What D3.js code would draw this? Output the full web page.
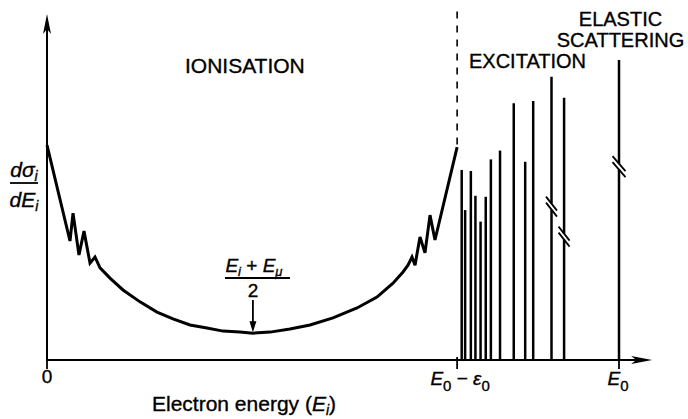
<!DOCTYPE html>
<html>
<head>
<meta charset="utf-8">
<script src="https://cdn.jsdelivr.net/npm/d3@7"></script>
<style>
  html, body { margin: 0; padding: 0; background: #fff; }
  svg { display: block; }
  text { font-family: "Liberation Sans", Arial, Helvetica, sans-serif; fill: #000; stroke: #000; stroke-width: 0.35px; }
</style>
</head>
<body>
<svg id="chart" width="688" height="419"></svg>
<script>
// ---------- data (arbitrary units: E0 = 100, y from 0 to 100) ----------
const curveEnergy = [0, 4.02, 4.55, 5.59, 6.47, 7.52, 8.39, 9.27, 11.01, 13.29, 16.26, 19.23, 22.03, 25.0, 27.97, 30.77, 33.74, 36.01, 38.99, 42.48, 45.98, 50.0, 54.2, 57.69, 60.49, 62.24, 63.11, 63.81, 64.34, 65.21, 66.08, 66.96, 67.83, 71.7];
const curveSigma  = [63.2, 35.0, 43.2, 30.9, 37.9, 28.5, 30.3, 27.1, 24.1, 20.6, 17.1, 14.1, 12.1, 10.3, 9.4, 8.5, 8.2, 7.9, 8.2, 9.1, 10.3, 12.4, 15.3, 18.5, 22.6, 25.9, 27.9, 30.3, 27.9, 36.2, 31.5, 42.6, 35.3, 62.6];

const excitationEnergy = [72.5, 73.1, 74.1, 74.9, 75.8, 76.7, 77.6, 79.2, 81.6, 83.6, 85.0, 88.2, 90.4];
const excitationHeight = [55.9, 44.1, 55.6, 48.3, 40.7, 48.0, 59.0, 61.6, 75.5, 58.3, 76.2, 83.3, 77.1];
const brokenEnergy = [88.2, 90.4];
const brokenAt = [45.1, 36.3];

const elasticEnergy = [100];
const elasticHeight = [88.2];
const elasticBreakAt = [56.9];

const thresholdEnergy = 71.7;   // E0 - eps0
const minimumEnergy = 36.0;     // (Ei + Emu)/2
const minimumSigma = 7.9;
const tickEnergy = [0, 71.7, 100];

// ---------- scales ----------
const svg = d3.select("#chart");
const x = d3.scaleLinear().domain([0, 100]).range([47, 619]);
const y = d3.scaleLinear().domain([0, 100]).range([360, 20]);

// ---------- axes ----------
const axisEndX = 105.8, axisEndY = 101.8;
svg.append("line").attr("x1", x(0)).attr("x2", x(axisEndX) - 12).attr("y1", y(0)).attr("y2", y(0))
  .attr("stroke", "#000").attr("stroke-width", 2);
svg.append("line").attr("x1", x(0)).attr("x2", x(0)).attr("y1", y(0) + 1).attr("y2", y(axisEndY) + 12)
  .attr("stroke", "#000").attr("stroke-width", 2);
// arrowheads
{
  const tx = x(axisEndX), ty = y(0);
  svg.append("path").attr("d", `M${tx},${ty} L${tx - 21},${ty - 4} L${tx - 16},${ty} L${tx - 21},${ty + 4} Z`).attr("fill", "#000");
  const ax = x(0), ay = y(axisEndY);
  svg.append("path").attr("d", `M${ax},${ay} L${ax - 4},${ay + 20} L${ax},${ay + 15} L${ax + 4},${ay + 20} Z`).attr("fill", "#000");
}
// ticks
tickEnergy.forEach(e => {
  svg.append("line").attr("x1", x(e)).attr("x2", x(e)).attr("y1", y(0) - 3).attr("y2", y(0) + 9)
    .attr("stroke", "#000").attr("stroke-width", 1.8);
});

// ---------- dashed threshold line ----------
svg.append("line").attr("x1", x(thresholdEnergy)).attr("x2", x(thresholdEnergy))
  .attr("y1", y(102.5)).attr("y2", y(62.6))
  .attr("stroke", "#000").attr("stroke-width", 1.6).attr("stroke-dasharray", "7,7");

// ---------- ionisation curve ----------
const pts = curveEnergy.map((e, i) => [x(e), y(curveSigma[i])]);
svg.append("path").attr("d", d3.line().curve(d3.curveLinear)(pts))
  .attr("fill", "none").attr("stroke", "#000").attr("stroke-width", 3)
  .attr("stroke-linejoin", "miter").attr("stroke-miterlimit", 3);

// ---------- excitation + elastic lines ----------
excitationEnergy.forEach((e, i) => {
  svg.append("line").attr("x1", x(e)).attr("x2", x(e)).attr("y1", y(0)).attr("y2", y(excitationHeight[i]))
    .attr("stroke", "#000").attr("stroke-width", 2.5);
});
elasticEnergy.forEach((e, i) => {
  svg.append("line").attr("x1", x(e)).attr("x2", x(e)).attr("y1", y(0)).attr("y2", y(elasticHeight[i]))
    .attr("stroke", "#000").attr("stroke-width", 2.5);
});

function drawBreak(cx, cy, dx, dy) {
  svg.append("line").attr("x1", cx).attr("x2", cx).attr("y1", cy - 3).attr("y2", cy + 3)
    .attr("stroke", "#fff").attr("stroke-width", 5);
  [-3, 3].forEach(off => {
    svg.append("line")
      .attr("x1", cx - dx).attr("y1", cy - dy + off)
      .attr("x2", cx + dx).attr("y2", cy + dy + off)
      .attr("stroke", "#000").attr("stroke-width", 1.8);
  });
}
brokenEnergy.forEach((e, i) => drawBreak(x(e), y(brokenAt[i]), 5.5, 7));
elasticEnergy.forEach((e, i) => drawBreak(x(e), y(elasticBreakAt[i]), 6.5, 7.5));

// ---------- minimum annotation ----------
{
  const mx = x(minimumEnergy);
  const num = svg.append("text").attr("x", mx + 1).attr("y", 272).attr("text-anchor", "middle").attr("font-size", 19);
  num.append("tspan").attr("font-style", "italic").text("E");
  num.append("tspan").attr("font-style", "italic").attr("font-size", 13).attr("dy", 4).text("i");
  num.append("tspan").attr("dy", -4).text(" + ");
  num.append("tspan").attr("font-style", "italic").text("E");
  num.append("tspan").attr("font-style", "italic").attr("font-size", 13).attr("dy", 4).text("μ");
  svg.append("line").attr("x1", 225).attr("x2", 290).attr("y1", 278).attr("y2", 278)
    .attr("stroke", "#000").attr("stroke-width", 1.8);
  svg.append("text").attr("x", mx).attr("y", 297).attr("text-anchor", "middle").attr("font-size", 19).text("2");
  const tipY = y(minimumSigma) - 1;
  svg.append("line").attr("x1", mx).attr("x2", mx).attr("y1", 300).attr("y2", tipY - 8)
    .attr("stroke", "#000").attr("stroke-width", 1.8);
  svg.append("path").attr("d", `M${mx},${tipY} L${mx - 3.5},${tipY - 11} L${mx + 3.5},${tipY - 11} Z`).attr("fill", "#000");
}

// ---------- region labels ----------
svg.append("text").attr("x", 185).attr("y", 73).attr("font-size", 21).text("IONISATION");
svg.append("text").attr("x", 469).attr("y", 68).attr("font-size", 20).text("EXCITATION");
svg.append("text").attr("x", 620.5).attr("y", 26).attr("text-anchor", "middle").attr("font-size", 20).text("ELASTIC");
svg.append("text").attr("x", 620.5).attr("y", 47).attr("text-anchor", "middle").attr("font-size", 20).text("SCATTERING");

// ---------- y label (fraction) ----------
{
  const t1 = svg.append("text").attr("x", 24).attr("y", 177).attr("text-anchor", "middle").attr("font-size", 21).attr("font-style", "italic");
  t1.append("tspan").text("dσ");
  t1.append("tspan").attr("font-size", 14).attr("dy", 4).text("i");
  svg.append("line").attr("x1", 10).attr("x2", 38).attr("y1", 183).attr("y2", 183).attr("stroke", "#000").attr("stroke-width", 1.8);
  const t2 = svg.append("text").attr("x", 24).attr("y", 207).attr("text-anchor", "middle").attr("font-size", 21).attr("font-style", "italic");
  t2.append("tspan").text("dE");
  t2.append("tspan").attr("font-size", 14).attr("dy", 4).text("i");
}

// ---------- x tick labels ----------
svg.append("text").attr("x", x(0)).attr("y", 383).attr("text-anchor", "middle").attr("font-size", 19).text("0");
{
  const t = svg.append("text").attr("x", x(thresholdEnergy) + 3).attr("y", 385).attr("text-anchor", "middle").attr("font-size", 19);
  t.append("tspan").attr("font-style", "italic").text("E");
  t.append("tspan").attr("font-size", 15).attr("dy", 6).text("0");
  t.append("tspan").attr("dy", -6).text(" − ");
  t.append("tspan").attr("font-style", "italic").text("ε");
  t.append("tspan").attr("font-size", 15).attr("dy", 6).text("0");
}
{
  const t = svg.append("text").attr("x", x(100) - 1).attr("y", 385).attr("text-anchor", "middle").attr("font-size", 19);
  t.append("tspan").attr("font-style", "italic").text("E");
  t.append("tspan").attr("font-size", 15).attr("dy", 6).text("0");
}

// ---------- x axis title ----------
{
  const t = svg.append("text").attr("x", 152).attr("y", 411).attr("font-size", 21);
  t.append("tspan").text("Electron energy (");
  t.append("tspan").attr("font-style", "italic").text("E");
  t.append("tspan").attr("font-style", "italic").attr("font-size", 14).attr("dy", 4).text("i");
  t.append("tspan").attr("dy", -4).text(")");
}
</script>
</body>
</html>
